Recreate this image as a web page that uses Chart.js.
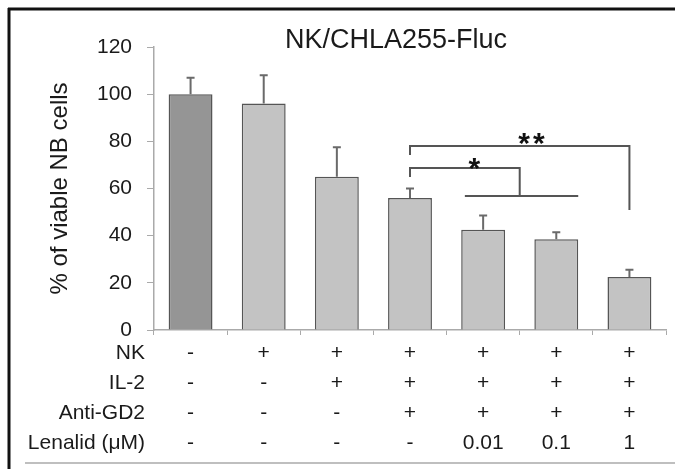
<!DOCTYPE html>
<html><head><meta charset="utf-8">
<script src="https://cdn.jsdelivr.net/npm/chart.js@4"></script>
<style>html,body{margin:0;padding:0;background:#fff}#wrap{width:675px;height:469px;position:relative}</style>
</head><body><div id="wrap"><canvas id="c" width="675" height="469"></canvas></div>
<script>
const chartTitle = 'NK/CHLA255-Fluc';
const yAxisTitle = '% of viable NB cells';
const rowHeaders = ['NK', 'IL-2', 'Anti-GD2', 'Lenalid (\u03bcM)'];
const nkRow      = ['-', '+', '+', '+', '+', '+', '+'];
const il2Row     = ['-', '-', '+', '+', '+', '+', '+'];
const antiGD2Row = ['-', '-', '-', '+', '+', '+', '+'];
const lenalidRow = ['-', '-', '-', '-', '0.01', '0.1', '1'];
const viability  = [100, 96, 65, 56, 42.5, 38.5, 22.5];
const errorUpper = [7, 12, 12.5, 4, 6, 3, 3];
const yMin = 0, yMax = 120, yStep = 20;
// significance brackets: category indices (x) and % values (y)
const sigLabels    = ['**', '*'];
const sigFrom      = [3, 3];
const sigTo        = [6, 4.5];
const sigLevel     = [78, 68.7];
const sigLeftEnd   = [74.2, 64.9];
const sigRightEnd  = [50.9, 56.8];
const sigLabelX    = [4.68, 3.9];
const sigLabelY    = [82.5, 72];
const groupLineFrom = [3.75];
const groupLineTo   = [5.3];
const groupLineY    = [56.8];

const FONT = "'Liberation Sans', Arial, Helvetica, sans-serif";
const labels = nkRow.map((v, i) => [nkRow[i], il2Row[i], antiGD2Row[i], lenalidRow[i]]);
const barColors = viability.map((v, i) => i === 0 ? '#959595' : '#c3c3c3');
const X_TICK_LEN = 5, X_TICK_PAD = 3, X_LINE_H = 30;

const framePlugin = {
  id: 'frame',
  beforeDraw(chart) {
    const ctx = chart.ctx;
    ctx.save();
    ctx.fillStyle = '#fff';
    ctx.fillRect(0, 0, chart.width, chart.height);
    ctx.strokeStyle = '#111';
    ctx.lineWidth = 3;
    ctx.beginPath();
    ctx.moveTo(8, 9); ctx.lineTo(chart.width, 9);
    ctx.moveTo(9, 8); ctx.lineTo(9, chart.height);
    ctx.stroke();
    ctx.strokeStyle = '#aaa';
    ctx.lineWidth = 1.5;
    ctx.beginPath();
    ctx.moveTo(25, chart.height - 6); ctx.lineTo(chart.width, chart.height - 6);
    ctx.stroke();
    ctx.restore();
  }
};

const overlayPlugin = {
  id: 'overlay',
  afterDatasetsDraw(chart) {
    const ctx = chart.ctx;
    const xs = chart.scales.x, ys = chart.scales.y;
    ctx.save();
    // error bars (upper)
    ctx.strokeStyle = '#6a6a6a';
    ctx.lineWidth = 2;
    viability.forEach((v, i) => {
      const x = xs.getPixelForValue(i);
      const y0 = ys.getPixelForValue(v);
      const y1 = ys.getPixelForValue(v + errorUpper[i]);
      ctx.beginPath();
      ctx.moveTo(x, y0); ctx.lineTo(x, y1);
      ctx.moveTo(x - 4, y1); ctx.lineTo(x + 4, y1);
      ctx.stroke();
    });
    // significance brackets
    ctx.strokeStyle = '#555';
    ctx.lineWidth = 2;
    sigLabels.forEach((lab, k) => {
      const xa = xs.getPixelForValue(sigFrom[k]);
      const xb = xs.getPixelForValue(sigTo[k]);
      const yl = ys.getPixelForValue(sigLevel[k]);
      ctx.beginPath();
      ctx.moveTo(xa, ys.getPixelForValue(sigLeftEnd[k]));
      ctx.lineTo(xa, yl);
      ctx.lineTo(xb, yl);
      ctx.lineTo(xb, ys.getPixelForValue(sigRightEnd[k]));
      ctx.stroke();
    });
    groupLineFrom.forEach((f, k) => {
      const y = ys.getPixelForValue(groupLineY[k]);
      ctx.beginPath();
      ctx.moveTo(xs.getPixelForValue(f), y);
      ctx.lineTo(xs.getPixelForValue(groupLineTo[k]), y);
      ctx.stroke();
    });
    ctx.fillStyle = '#111';
    ctx.font = 'bold 30px ' + FONT;
    ctx.textAlign = 'center';
    ctx.textBaseline = 'alphabetic';
    try { ctx.letterSpacing = '3px'; } catch (e) {}
    sigLabels.forEach((lab, k) => {
      const x = xs.getPixelForValue(sigLabelX[k]);
      const y = ys.getPixelForValue(sigLabelY[k]);
      ctx.fillText(lab, x, y + 30 * 0.58);
    });
    ctx.restore();
  },
  afterDraw(chart) {
    const ctx = chart.ctx;
    const xs = chart.scales.x;
    const area = chart.chartArea;
    ctx.save();
    try { ctx.letterSpacing = '0px'; } catch (e) {}
    // title
    ctx.fillStyle = '#1a1a1a';
    ctx.font = '27px ' + FONT;
    ctx.textAlign = 'center';
    ctx.textBaseline = 'middle';
    ctx.fillText(chartTitle, (area.left + area.right) / 2 - 14, area.top - 6);
    // row headers
    ctx.font = '21px ' + FONT;
    ctx.textAlign = 'right';
    ctx.fillStyle = '#1a1a1a';
    rowHeaders.forEach((h, i) => {
      const y = xs.top + X_TICK_LEN + X_TICK_PAD + X_LINE_H * (i + 0.5);
      ctx.fillText(h, area.left - 9, y);
    });
    ctx.restore();
  }
};

new Chart(document.getElementById('c'), {
  type: 'bar',
  data: {
    labels: labels,
    datasets: [{
      data: viability,
      backgroundColor: barColors,
      borderColor: '#555',
      borderWidth: 1.5,
      barPercentage: 0.6,
      categoryPercentage: 1.0
    }]
  },
  options: {
    responsive: false,
    animation: false,
    devicePixelRatio: 1,
    layout: { padding: { left: 8, right: 9, top: 47, bottom: 0 } },
    plugins: { legend: { display: false }, tooltip: { enabled: false }, title: { display: false } },
    scales: {
      x: {
        afterFit(s) { s.height = 139; },
        grid: { display: true, drawOnChartArea: false, drawTicks: true, tickLength: X_TICK_LEN, color: '#aaa', offset: true },
        border: { display: true, color: '#aaa', width: 1.5 },
        ticks: {
          autoSkip: false, maxRotation: 0, minRotation: 0,
          padding: X_TICK_PAD, color: '#1a1a1a',
          font: { family: FONT, size: 21, lineHeight: X_LINE_H + 'px' }
        }
      },
      y: {
        min: yMin, max: yMax,
        afterFit(s) { s.width = 146; },
        grid: { display: true, drawOnChartArea: false, drawTicks: true, tickLength: 7, color: '#aaa' },
        border: { display: true, color: '#aaa', width: 1.5 },
        ticks: { stepSize: yStep, padding: 15, color: '#1a1a1a', font: { family: FONT, size: 21 } },
        title: {
          display: true, text: yAxisTitle, color: '#1a1a1a',
          font: { family: FONT, size: 24, lineHeight: 1.2 },
          padding: { top: 38, bottom: 0 }
        }
      }
    }
  },
  plugins: [framePlugin, overlayPlugin]
});
</script>
</body></html>
